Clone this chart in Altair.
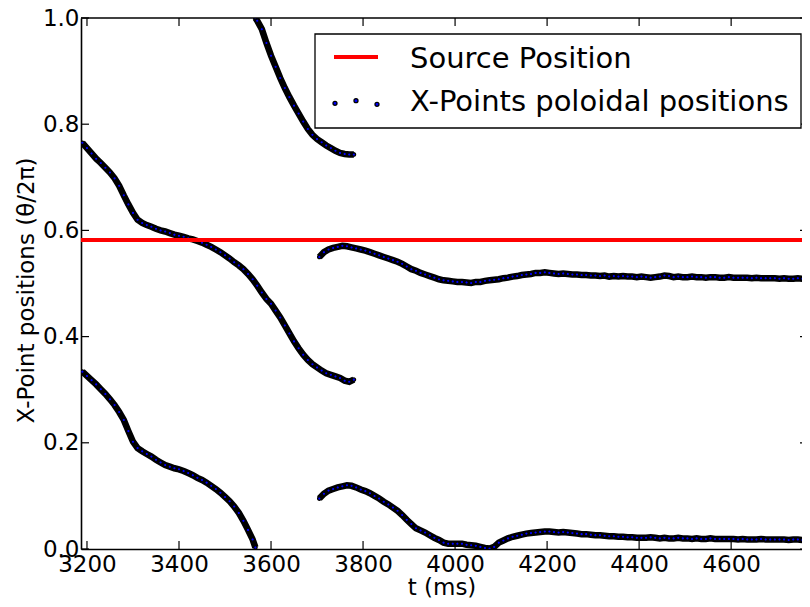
import altair as alt
import pandas as pd

# ---------------- data ----------------
X_TICKS = [3200, 3400, 3600, 3800, 4000, 4200, 4400, 4600]
Y_TICKS = [0.0, 0.2, 0.4, 0.6, 0.8, 1.0]
SOURCE_POS = [0.582]
LEGEND_LABELS = ["Source Position", "X-Points poloidal positions"]

# segment A: upper-left branch, sampled every 10 ms from 3190 ms
SEG_A_T0 = 3190
SEG_A_V = [0.765, 0.755, 0.745, 0.735, 0.727, 0.718, 0.709, 0.698, 0.684, 0.666,
           0.649, 0.633, 0.620, 0.614, 0.610, 0.607, 0.603, 0.600, 0.598, 0.595,
           0.592, 0.590, 0.588, 0.585, 0.583, 0.580, 0.577, 0.573, 0.569, 0.564,
           0.559, 0.553, 0.547, 0.540, 0.534, 0.527, 0.518, 0.508, 0.496, 0.483,
           0.471, 0.462, 0.449, 0.436, 0.421, 0.406, 0.391, 0.378, 0.366, 0.356,
           0.348, 0.342, 0.336, 0.331, 0.328, 0.325, 0.322, 0.317, 0.315, 0.319]

# segment B: lower-left branch
SEG_B_T = [3190, 3200, 3210, 3220, 3230, 3240, 3250, 3260, 3270, 3280,
           3290, 3300, 3310, 3320, 3330, 3340, 3350, 3360, 3370, 3380,
           3390, 3400, 3410, 3420, 3430, 3440, 3450, 3460, 3470, 3480,
           3490, 3500, 3510, 3520, 3530, 3540, 3550, 3560, 3566]
SEG_B_V = [0.334, 0.326, 0.318, 0.310, 0.301, 0.292, 0.282, 0.271, 0.258, 0.243,
           0.222, 0.202, 0.190, 0.184, 0.179, 0.174, 0.168, 0.163, 0.158, 0.155,
           0.152, 0.150, 0.147, 0.143, 0.139, 0.134, 0.130, 0.125, 0.119, 0.113,
           0.106, 0.098, 0.090, 0.080, 0.068, 0.053, 0.036, 0.018, 0.003]

# segment C: top branch
SEG_C_T = [3566, 3570, 3580, 3590, 3600, 3610, 3620, 3630, 3640, 3650, 3660, 3670,
           3680, 3690, 3700, 3710, 3720, 3730, 3740, 3750, 3760, 3770, 3780]
SEG_C_V = [1.000, 0.995, 0.979, 0.953, 0.929, 0.908, 0.887, 0.868, 0.851, 0.835,
           0.820, 0.805, 0.791, 0.780, 0.772, 0.766, 0.760, 0.755, 0.750, 0.746,
           0.744, 0.743, 0.743]

# segment D: middle-right branch, every 10 ms from 3705 ms
SEG_D_T0 = 3705
SEG_D_V = [0.550, 0.559, 0.564, 0.567, 0.569, 0.571, 0.570, 0.568, 0.566, 0.564,
           0.562, 0.559, 0.556, 0.553, 0.550, 0.547, 0.544, 0.541, 0.537, 0.532,
           0.527, 0.524, 0.520, 0.517, 0.514, 0.511, 0.508, 0.506, 0.505, 0.504,
           0.503, 0.503, 0.502, 0.501, 0.503, 0.503, 0.505, 0.506, 0.507, 0.508,
           0.510, 0.511, 0.513, 0.514, 0.516, 0.517, 0.518, 0.520, 0.520, 0.521,
           0.520, 0.519, 0.518, 0.519, 0.518, 0.517, 0.517, 0.516, 0.516, 0.515,
           0.515, 0.514, 0.515, 0.513, 0.514, 0.513, 0.514, 0.513, 0.513, 0.512,
           0.513, 0.512, 0.511, 0.512, 0.513, 0.515, 0.514, 0.512, 0.513, 0.512,
           0.512, 0.513, 0.512, 0.512, 0.511, 0.512, 0.512, 0.511, 0.511, 0.512,
           0.511, 0.511, 0.511, 0.511, 0.510, 0.511, 0.510, 0.510, 0.510, 0.510,
           0.509, 0.510, 0.509, 0.509, 0.510, 0.509, 0.509, 0.508]

# segment E: lower-right branch, every 10 ms from 3705 ms
SEG_E_T0 = 3705
SEG_E_V = [0.095, 0.104, 0.110, 0.113, 0.116, 0.118, 0.120, 0.119, 0.116, 0.112,
           0.109, 0.105, 0.100, 0.095, 0.089, 0.084, 0.078, 0.072, 0.064, 0.055,
           0.047, 0.039, 0.035, 0.031, 0.026, 0.021, 0.017, 0.012, 0.010, 0.010,
           0.010, 0.010, 0.008, 0.007, 0.006, 0.004, 0.002, 0.001, 0.004, 0.012,
           0.016, 0.020, 0.023, 0.025, 0.027, 0.029, 0.030, 0.031, 0.032, 0.033,
           0.033, 0.032, 0.031, 0.032, 0.031, 0.030, 0.029, 0.028, 0.028, 0.027,
           0.026, 0.026, 0.025, 0.024, 0.024, 0.023, 0.023, 0.022, 0.022, 0.021,
           0.021, 0.021, 0.022, 0.021, 0.020, 0.021, 0.020, 0.020, 0.021, 0.020,
           0.020, 0.019, 0.020, 0.019, 0.019, 0.020, 0.019, 0.019, 0.019, 0.019,
           0.019, 0.018, 0.019, 0.018, 0.018, 0.018, 0.019, 0.018, 0.018, 0.018,
           0.018, 0.018, 0.017, 0.018, 0.018, 0.017, 0.018, 0.017]

# ---------------- build table ----------------
rows = []
def add(seg, ts, vs):
    for t, v in zip(ts, vs):
        rows.append({"t": t, "v": v, "seg": seg})

add("A", [SEG_A_T0 + 10 * i for i in range(len(SEG_A_V))], SEG_A_V)
add("B", SEG_B_T, SEG_B_V)
add("C", SEG_C_T, SEG_C_V)
add("D", [SEG_D_T0 + 10 * i for i in range(len(SEG_D_V))], SEG_D_V)
add("E", [SEG_E_T0 + 10 * i for i in range(len(SEG_E_V))], SEG_E_V)
df = pd.DataFrame(rows)

FONT = "DejaVu Sans"
W, H = 721, 531
xs = alt.Scale(domain=[3187, 4754], nice=False, zero=False)
ys = alt.Scale(domain=[0, 1], nice=False, zero=False)

x_axis = alt.Axis(values=X_TICKS, format="d", title="t (ms)", ticks=False, grid=False,
                  labelFont=FONT, labelFontSize=23, labelColor="black", labelPadding=4,
                  labelFlush=False, labelOverlap=False,
                  titleFont=FONT, titleFontSize=23, titleFontWeight="normal", titleColor="black",
                  titleY=45, titleBaseline="alphabetic",
                  domainColor="black", domainWidth=1.6)
y_axis = alt.Axis(values=Y_TICKS, format=".1f", title="X-Point positions (θ/2π)", ticks=False,
                  grid=False, labelFont=FONT, labelFontSize=23, labelColor="black", labelPadding=2,
                  labelFlush=False, labelOverlap=False,
                  titleFont=FONT, titleFontSize=23, titleFontWeight="normal", titleColor="black",
                  titleAngle=270, titleX=-48, titleY=272, titleAlign="center",
                  titleBaseline="alphabetic",
                  domainColor="black", domainWidth=1.6)

X = lambda f: alt.X(f, scale=xs, axis=x_axis)
Y = lambda f: alt.Y(f, scale=ys, axis=y_axis)

base = alt.Chart(df)
band = base.mark_line(color="black", strokeWidth=6.5, clip=True).encode(
    x=X("t:Q"), y=Y("v:Q"), detail="seg:N",
)
pts = base.mark_point(shape="circle", filled=True, fill="#0000ff", stroke="black",
                      strokeWidth=1.3, size=12, opacity=1, clip=True).encode(
    x=X("t:Q"), y=Y("v:Q"),
)
src = alt.Chart(pd.DataFrame({"v": SOURCE_POS})).mark_rule(color="#ff0000", strokeWidth=4).encode(
    y=Y("v:Q")
)

xt = alt.Chart(pd.DataFrame({"t": X_TICKS}))
yt = alt.Chart(pd.DataFrame({"v": Y_TICKS}))
tick_style = dict(color="black", strokeWidth=1.2)
tb = xt.mark_rule(**tick_style).encode(x=X("t:Q"), y=alt.value(H), y2=alt.value(H - 8))
tt = xt.mark_rule(**tick_style).encode(x=X("t:Q"), y=alt.value(0), y2=alt.value(8))
tl = yt.mark_rule(**tick_style).encode(y=Y("v:Q"), x=alt.value(0), x2=alt.value(8))
# the right spine lies just outside the picture: only the tick tips show
tr = yt.mark_rule(**tick_style).encode(y=Y("v:Q"), x=alt.value(W), x2=alt.value(W - 2))
top_spine = alt.Chart(pd.DataFrame({"a": [0]})).mark_rule(color="black", strokeWidth=1.6).encode(
    x=alt.value(0), x2=alt.value(W), y=alt.value(0))

# ---------------- legend ----------------
one = alt.Chart(pd.DataFrame({"label": LEGEND_LABELS}))
leg_box = alt.Chart(pd.DataFrame({"a": [0]})).mark_rect(fill="white", stroke="black", strokeWidth=1.3).encode(
    x=alt.value(234), x2=alt.value(720), y=alt.value(16), y2=alt.value(110))
leg_line = alt.Chart(pd.DataFrame({"a": [0]})).mark_rule(color="#ff0000", strokeWidth=4).encode(
    x=alt.value(253), x2=alt.value(297), y=alt.value(39))
leg_dots = []
for dx, dy in [(254, 85.3), (275, 82.7), (296, 86.3)]:
    leg_dots.append(alt.Chart(pd.DataFrame({"a": [0]})).mark_point(
        shape="circle", filled=True, fill="#0000ff", stroke="black", strokeWidth=1.3,
        size=16, opacity=1).encode(x=alt.value(dx), y=alt.value(dy)))
leg_t1 = one.transform_filter(alt.datum.label == LEGEND_LABELS[0]).mark_text(
    align="left", baseline="alphabetic", font=FONT, fontSize=29, color="black").encode(
    x=alt.value(329), y=alt.value(50), text="label:N")
leg_t2 = one.transform_filter(alt.datum.label == LEGEND_LABELS[1]).mark_text(
    align="left", baseline="alphabetic", font=FONT, fontSize=29, color="black").encode(
    x=alt.value(329), y=alt.value(93), text="label:N")

chart = alt.layer(band, pts, src, tb, tt, tl, tr, top_spine, leg_box, leg_line, *leg_dots,
                  leg_t1, leg_t2).properties(
    width=W, height=H,
    autosize=alt.AutoSizeParams(type="none"),
    padding={"left": 73, "top": 10, "right": 0, "bottom": 50},
    background="white",
).configure_view(strokeWidth=0)

chart.save("out.html", embed_options={"renderer": "svg", "actions": False})
